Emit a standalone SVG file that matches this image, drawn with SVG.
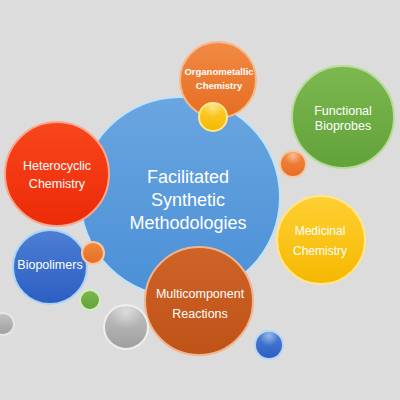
<svg xmlns="http://www.w3.org/2000/svg" width="400" height="400" viewBox="0 0 400 400">
<defs>
<linearGradient id="gBlue" x1="0" y1="0" x2="0" y2="1"><stop offset="0" stop-color="#6aa6e0"/><stop offset="1" stop-color="#4a8fd6"/></linearGradient>
<linearGradient id="gRed" x1="0" y1="0" x2="0" y2="1"><stop offset="0" stop-color="#f8461c"/><stop offset="1" stop-color="#ec2a08"/></linearGradient>
<linearGradient id="gOrange" x1="0" y1="0" x2="0" y2="1"><stop offset="0" stop-color="#f28a44"/><stop offset="1" stop-color="#e56d22"/></linearGradient>
<linearGradient id="gGreen" x1="0" y1="0" x2="0" y2="1"><stop offset="0" stop-color="#7cb84f"/><stop offset="1" stop-color="#62a23a"/></linearGradient>
<linearGradient id="gYellow" x1="0" y1="0" x2="0" y2="1"><stop offset="0" stop-color="#ffd033"/><stop offset="1" stop-color="#f5b800"/></linearGradient>
<linearGradient id="gBrown" x1="0" y1="0" x2="0" y2="1"><stop offset="0" stop-color="#cf6428"/><stop offset="1" stop-color="#bf5216"/></linearGradient>
<linearGradient id="gDBlue" x1="0" y1="0" x2="0" y2="1"><stop offset="0" stop-color="#4d7fd4"/><stop offset="1" stop-color="#2b5ec2"/></linearGradient>
<linearGradient id="gGray" x1="0" y1="0" x2="0" y2="1"><stop offset="0" stop-color="#c4c4c4"/><stop offset="1" stop-color="#9e9e9e"/></linearGradient>
<radialGradient id="shine" cx="0.5" cy="0.2" r="0.5"><stop offset="0" stop-color="#fff" stop-opacity="0.45"/><stop offset="1" stop-color="#fff" stop-opacity="0"/></radialGradient>
</defs>
<style>
text{font-family:"Liberation Sans",Arial,sans-serif;fill:#fff;text-anchor:middle}
.rim{stroke-width:2}
</style>
<rect width="400" height="400" fill="#dcdcdc"/>
<g id="center-node">
<circle cx="180" cy="197" r="100" fill="url(#gBlue)" stroke="#bfe3f7" class="rim"/>
<text x="188" y="183" font-size="18">Facilitated</text>
<text x="188" y="206" font-size="18">Synthetic</text>
<text x="188" y="229" font-size="18">Methodologies</text>
</g>
<g id="node-heterocyclic">
<circle cx="57" cy="174" r="52" fill="url(#gRed)" stroke="#f9a88e" class="rim"/>
<text x="57" y="170" font-size="12.5">Heterocyclic</text>
<text x="57" y="188" font-size="12.5">Chemistry</text>
</g>
<g id="node-organometallic">
<circle cx="218" cy="80" r="38" fill="url(#gOrange)" stroke="#f7b98c" class="rim"/>
<text x="219" y="75" font-size="9.5" font-weight="bold">Organometallic</text>
<text x="219" y="89" font-size="9.5" font-weight="bold">Chemistry</text>
</g>
<g id="node-functional">
<circle cx="343" cy="117" r="51" fill="url(#gGreen)" stroke="#b7dc98" class="rim"/>
<text x="343" y="115" font-size="12.5">Functional</text>
<text x="343" y="130" font-size="12.5">Bioprobes</text>
</g>
<g id="node-medicinal">
<circle cx="321" cy="240" r="44" fill="url(#gYellow)" stroke="#ffe68a" class="rim"/>
<text x="320" y="235" font-size="12">Medicinal</text>
<text x="320" y="255" font-size="12">Chemistry</text>
</g>
<g id="node-multicomponent">
<circle cx="199" cy="301" r="54" fill="url(#gBrown)" stroke="#f0b48e" class="rim"/>
<text x="200" y="298" font-size="12.5">Multicomponent</text>
<text x="200" y="318" font-size="12.5">Reactions</text>
</g>
<g id="node-biopolimers">
<circle cx="50" cy="267" r="37" fill="url(#gDBlue)" stroke="#a9d4f5" class="rim"/>
<text x="50" y="269" font-size="12.5">Biopolimers</text>
</g>
<g id="decor">
<circle cx="213" cy="117" r="14" fill="url(#gYellow)" stroke="#ffe98f" class="rim"/>
<circle cx="293" cy="164" r="13" fill="url(#gOrange)" stroke="#f7c8a4" class="rim"/>
<circle cx="93" cy="253" r="11" fill="url(#gOrange)" stroke="#f7c8a4" class="rim"/>
<circle cx="90" cy="300" r="10" fill="url(#gGreen)" stroke="#d6ecc4" class="rim"/>
<circle cx="3" cy="324" r="11" fill="url(#gGray)" stroke="#e6e6e6" class="rim"/>
<circle cx="126" cy="327" r="22" fill="url(#gGray)" stroke="#eeeeee" class="rim"/>
<circle cx="269" cy="345" r="14" fill="url(#gDBlue)" stroke="#b5d6f5" class="rim"/>
<circle cx="213" cy="113" r="10" fill="url(#shine)"/>
<circle cx="126" cy="322" r="17" fill="url(#shine)"/>
<circle cx="269" cy="342" r="10" fill="url(#shine)"/>
<circle cx="293" cy="161" r="9" fill="url(#shine)"/>
</g>
<g id="connectors"/>
</svg>
